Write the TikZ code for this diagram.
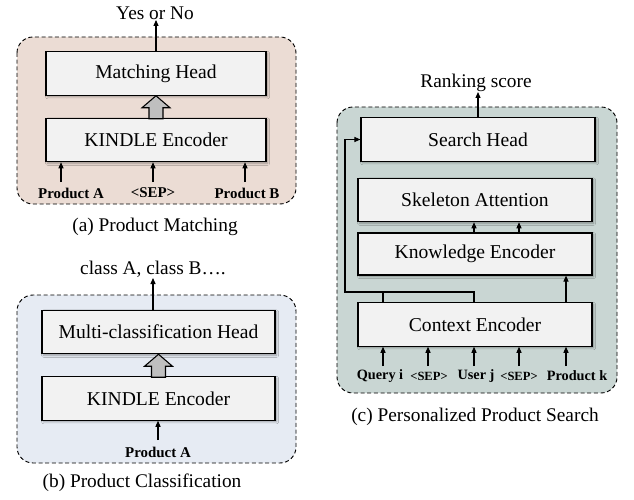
\documentclass[tikz,border=0pt]{standalone}
\usepackage{fontspec}
\setmainfont{Liberation Serif}
\usetikzlibrary{arrows.meta}
\usetikzlibrary{shadows.blur}

\definecolor{matchbg}{RGB}{235,220,212}
\definecolor{classbg}{RGB}{230,235,243}
\definecolor{searchbg}{RGB}{201,214,211}
\definecolor{boxgray}{RGB}{242,242,242}
\definecolor{fatgray}{RGB}{191,191,191}

\tikzset{
  panel/.style={draw, dash pattern={on 3pt off 2pt}, rounded corners=12pt, line width=0.7pt},
  blk/.style={draw, line width=0.9pt, fill=boxgray, minimum height=32.5pt, inner sep=0pt,
    font=\fontsize{14.7}{17}\selectfont,
    blur shadow={shadow xshift=1.2pt, shadow yshift=-1.2pt, shadow blur radius=1.5pt, shadow opacity=35}},
  lbl/.style={font=\fontsize{14.5}{17}\selectfont, inner sep=0pt},
  inp/.style={font=\fontsize{11.2}{13}\selectfont\bfseries, inner sep=0pt},
  inpc/.style={font=\fontsize{10.7}{12}\selectfont\bfseries, inner sep=0pt},
  sepc/.style={font=\fontsize{9.4}{12}\selectfont\bfseries, inner sep=0pt},
  arr/.style={-{Triangle[length=4.5pt,width=3.8pt]}, line width=0.8pt},
  fatarrow/.style={draw, fill=fatgray, line width=0.8pt, line join=miter},
}

\begin{document}
\begin{tikzpicture}[x=0.75pt,y=0.75pt,yscale=-1,xscale=1]
\useasboundingbox (0,0) rectangle (634,499);

%Panel backgrounds
\draw[panel, fill=matchbg] (17,37) rectangle (296,204);
\draw[panel, fill=classbg] (17,295) rectangle (296,463);
\draw[panel, fill=searchbg] (337,107) rectangle (617,393);

%(a) Product Matching
\node[lbl, anchor=south] (yesno) at (155,20) {Yes or No};
\node[blk, minimum width=165pt] (ahead) at (156,73.5) {Matching Head};
\node[blk, minimum width=165pt] (aenc) at (156,140) {KINDLE Encoder};
\draw[fatarrow] (ahead.south) -- ++(14,12) -- ++(-7,0) -- ++(0,11) -- ++(-14,0) -- ++(0,-11) -- ++(-7,0) -- cycle;
\draw[arr] (ahead.north) -- (ahead.north |- yesno.south);
\node[inp] (pa) at (71,193) {Product A};
\node[inp] (sepa) at (153,193) {<SEP>};
\node[inp] (pb) at (247,193) {Product B};
\coordinate (ta1) at (61,182);
\coordinate (ta2) at (153,182);
\coordinate (ta3) at (245,182);
\foreach \t in {ta1,ta2,ta3}
  \draw[arr] (\t) -- (\t |- aenc.south);
\node[lbl] (capa) at (155,227) {(a) Product Matching};

%(b) Product Classification
\node[lbl, anchor=south] (bout) at (153,278) {class A, class B….};
\node[blk, minimum width=174.75pt] (bhead) at (158.5,332) {Multi-classification Head};
\node[blk, minimum width=174.75pt] (benc) at (158.5,398.5) {KINDLE Encoder};
\draw[fatarrow] (bhead.south) -- ++(14,12) -- ++(-7,0) -- ++(0,11) -- ++(-14,0) -- ++(0,-11) -- ++(-7,0) -- cycle;
\draw[arr] (bhead.north -| bout.south) -- (bout.south);
\node[inp] (pab) at (158,452) {Product A};
\coordinate (tb1) at (158,440);
\draw[arr] (tb1) -- (tb1 |- benc.south);
\node[lbl] (capb) at (142,483) {(b) Product Classification};

%(c) Personalized Product Search
\node[lbl, anchor=south] (rank) at (476,92) {Ranking score};
\node[blk, minimum width=175.5pt] (search) at (478,139.5) {Search Head};
\node[blk, minimum width=175.5pt] (skel) at (475,200) {Skeleton Attention};
\node[blk, minimum width=175.5pt, minimum height=31.5pt] (know) at (475,254) {Knowledge Encoder};
\node[blk, minimum width=175.5pt] (ctx) at (475,324.5) {Context Encoder};
\draw[arr] (search.north) -- (search.north |- rank.south);
\node[inpc] (qi) at (380,376) {Query i};
\node[sepc] (sc1) at (429,376) {<SEP>};
\node[inpc] (uj) at (476,376) {User j};
\node[sepc] (sc2) at (519,376) {<SEP>};
\node[inpc] (pk) at (577,376) {Product k};
\foreach \n/\x in {1/383,2/428,3/474,4/519,5/566}
  \coordinate (tc\n) at (\x,366);
\foreach \n in {1,...,5}
  \draw[arr] (tc\n) -- (tc\n |- ctx.south);
\draw[arr] (ctx.north -| tc5) -- (know.south -| tc5);
\draw[arr] (know.north -| tc3) -- (skel.south -| tc3);
\draw[arr] (know.north -| tc4) -- (skel.south -| tc4);
%skip link
\coordinate (skip) at (345,292);
\draw[line width=0.8pt] (ctx.north -| tc1) -- (tc1 |- skip);
\draw[arr] (ctx.north -| tc3) |- (skip) |- (search.west);
\node[lbl] (capc) at (475,417) {(c) Personalized Product Search};

\end{tikzpicture}
\end{document}
